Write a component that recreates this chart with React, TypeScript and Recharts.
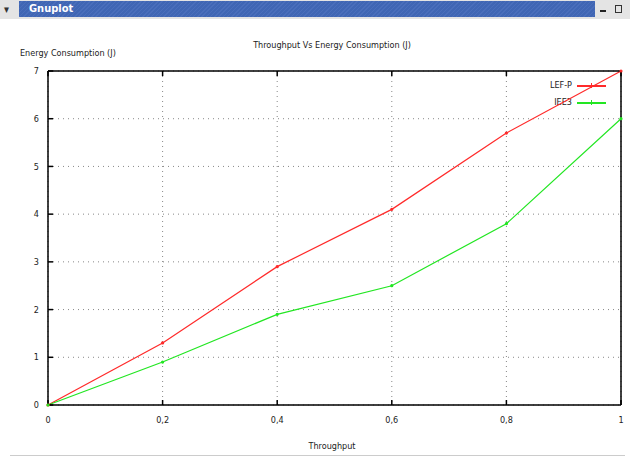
import { CartesianGrid, Line, LineChart, XAxis, YAxis } from "recharts";

const throughput = [0, 0.2, 0.4, 0.6, 0.8, 1];
const lefP = [0, 1.3, 2.9, 4.1, 5.7, 7];
const ieee = [0, 0.9, 1.9, 2.5, 3.8, 6];
const xTicks = [0, 0.2, 0.4, 0.6, 0.8, 1];
const yTicks = [0, 1, 2, 3, 4, 5, 6, 7];

const data = throughput.map((x, i) => ({ x, lefP: lefP[i], ieee: ieee[i] }));

const font = "'DejaVu Sans Condensed', 'DejaVu Sans', sans-serif";
const txt = { fontFamily: font, fontSize: 9, fill: "#222" };
const red = "#ff2a2a";
const green = "#22e622";

const Empty = () => <g />;

const App = () => {
  return (
    <div
      style={{
        position: "absolute",
        left: 0,
        top: 0,
        width: 630,
        height: 458,
        background: "#fff",
        fontFamily: font,
        fontSize: 9,
        color: "#222",
        overflow: "hidden",
      }}
    >
      {/* window title bar */}
      <div style={{ position: "absolute", left: 0, top: 0, width: 630, height: 19, background: "#e4e4e4" }} />
      <div style={{ position: "absolute", left: 4, top: 3, fontSize: 11, color: "#333", fontWeight: "bold" }}>▾</div>
      <div
        style={{
          position: "absolute",
          left: 19,
          top: 1,
          width: 576,
          height: 16,
          background:
            "repeating-linear-gradient(135deg, #4066b4 0px, #4066b4 2px, #4a6ebb 2px, #4a6ebb 3px)",
        }}
      />
      <div style={{ position: "absolute", left: 29, top: 2, fontSize: 11, fontWeight: "bold", color: "#fff" }}>
        Gnuplot
      </div>
      <div style={{ position: "absolute", left: 600, top: 10, width: 6, height: 2, background: "#222" }} />
      <div style={{ position: "absolute", left: 615, top: 5, width: 5, height: 6, border: "1px solid #333" }} />

      {/* titles */}
      <div style={{ position: "absolute", left: 0, width: 664, top: 40, textAlign: "center" }}>
        Throughput Vs Energy Consumption (J)
      </div>
      <div style={{ position: "absolute", left: 20, top: 48 }}>Energy Consumption (J)</div>
      <div style={{ position: "absolute", left: 0, width: 664, top: 441, textAlign: "center" }}>Throughput</div>
      <div style={{ position: "absolute", left: 10, top: 455, width: 615, height: 1, background: "#ccc" }} />

      {/* legend */}
      <div style={{ position: "absolute", left: 520, width: 52, top: 80, textAlign: "right" }}>LEF-P</div>
      <div style={{ position: "absolute", left: 577, top: 85, width: 29, height: 2, background: red }} />
      <div style={{ position: "absolute", left: 591, top: 83, width: 1, height: 5, background: red }} />
      <div style={{ position: "absolute", left: 520, width: 52, top: 97, textAlign: "right" }}>IEE3</div>
      <div style={{ position: "absolute", left: 577, top: 102, width: 29, height: 2, background: green }} />
      <div style={{ position: "absolute", left: 591, top: 100, width: 1, height: 5, background: green }} />

      <div style={{ position: "absolute", left: 0, top: 0 }}>
        <LineChart
          width={630}
          height={458}
          data={data}
          margin={{ top: 70, right: 8, left: 47, bottom: 52 }}
        >
          <CartesianGrid stroke="#888" strokeDasharray="1 4" strokeWidth={1} />
          <XAxis
            dataKey="x"
            type="number"
            domain={[0, 1]}
            ticks={xTicks}
            height={1}
            tickSize={-5}
            tickMargin={17}
            tickFormatter={(v) => (v === 0 || v === 1 ? `${v}` : v.toFixed(1).replace(".", ","))}
            tick={txt}
            axisLine={{ stroke: "#000", strokeWidth: 1.5 }}
            tickLine={{ stroke: "#000", strokeWidth: 1.5 }}
          />
          <XAxis
            xAxisId="top"
            orientation="top"
            dataKey="x"
            type="number"
            domain={[0, 1]}
            ticks={xTicks}
            height={1}
            tickSize={-5}
            tick={<Empty />}
            axisLine={{ stroke: "#000", strokeWidth: 1.5 }}
            tickLine={{ stroke: "#000", strokeWidth: 1.5 }}
          />
          <YAxis
            type="number"
            domain={[0, 7]}
            ticks={yTicks}
            width={1}
            tickSize={-5}
            tickMargin={14}
            tick={txt}
            axisLine={{ stroke: "#000", strokeWidth: 1.5 }}
            tickLine={{ stroke: "#000", strokeWidth: 1.5 }}
          />
          <YAxis
            yAxisId="right"
            orientation="right"
            type="number"
            domain={[0, 7]}
            ticks={yTicks}
            width={1}
            tickSize={-5}
            tick={<Empty />}
            axisLine={{ stroke: "#000", strokeWidth: 1.5 }}
            tickLine={{ stroke: "#000", strokeWidth: 1.5 }}
          />
          <Line
            type="linear"
            dataKey="lefP"
            stroke={red}
            strokeWidth={1.2}
            dot={{ r: 1, fill: red, stroke: red }}
            isAnimationActive={false}
          />
          <Line
            type="linear"
            dataKey="ieee"
            stroke={green}
            strokeWidth={1.2}
            dot={{ r: 1, fill: green, stroke: green }}
            isAnimationActive={false}
          />
        </LineChart>
      </div>
    </div>
  );
};

export default App;
